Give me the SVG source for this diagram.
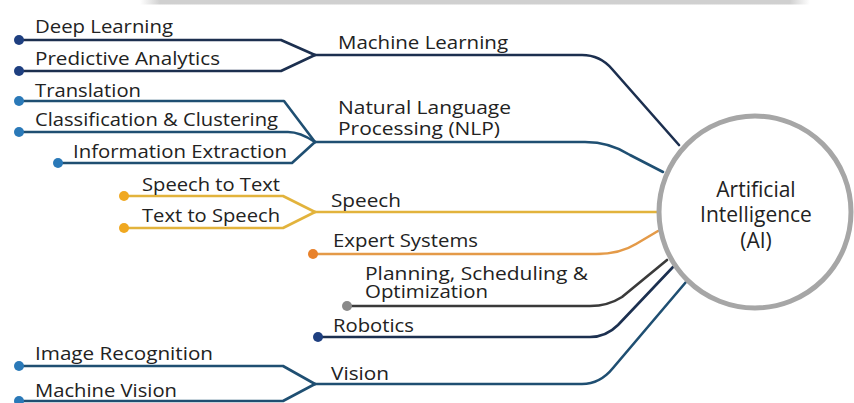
<svg xmlns="http://www.w3.org/2000/svg" width="854" height="403" viewBox="0 0 854 403">
<defs>
<linearGradient id="topbar" x1="0" y1="0" x2="1" y2="0">
<stop offset="0" stop-color="#d0d0d0" stop-opacity="0"/>
<stop offset="0.03" stop-color="#d0d0d0"/>
<stop offset="0.97" stop-color="#d0d0d0"/>
<stop offset="1" stop-color="#d0d0d0" stop-opacity="0"/>
</linearGradient>
<style>
text{font-family:"Open Sans","Noto Sans","Liberation Sans",sans-serif;font-size:18px;fill:#222;}
.c{font-size:21px;text-anchor:middle;}
.ln{fill:none;stroke-width:2.6;stroke-linejoin:round;stroke-linecap:round;}
.ml{stroke:#1c2f4f;}
.nlp{stroke:#1f4f72;}
.sp{stroke:#e2b33c;}
.ex{stroke:#e49a48;}
.pl{stroke:#3a3a3a;}
.rb{stroke:#1c3050;}
.vi{stroke:#1f4f72;}
.d-ml{fill:#1e3f80;}
.d-nlp{fill:#2a79b8;}
.d-sp{fill:#f0a820;}
.d-ex{fill:#e8812a;}
.d-pl{fill:#8a8a8a;}
</style>
</defs>
<rect x="0" y="0" width="854" height="403" fill="#ffffff"/>
<rect x="140" y="0" width="670" height="4.5" fill="url(#topbar)"/>

<g id="connectors">
<path class="ln ml" d="M19,40 H281 L315,55"/>
<path class="ln ml" d="M19,71 H281 L315,55"/>
<path class="ln ml" d="M315,55 H582 Q600,55 612,69 L679,145"/>

<path class="ln nlp" d="M19,101 H284 L315,142"/>
<path class="ln nlp" d="M19,132 H288 Q300,132 315,142"/>
<path class="ln nlp" d="M58,163 H292 L315,142"/>
<path class="ln nlp" d="M315,142 H585 Q610,142 630,155 L663,172"/>

<path class="ln sp" d="M124,196 H283 L315,212"/>
<path class="ln sp" d="M124,228 H283 L315,212"/>
<path class="ln sp" d="M315,212 H658"/>

<path class="ln ex" d="M313,254 H596 Q620,254 636,244 L658,231"/>
<path class="ln pl" d="M347,306 H590 Q608,306 622,297 L667,260"/>
<path class="ln rb" d="M318,337 H590 Q606,337 618,325 L673,267"/>

<path class="ln vi" d="M19,366 H283 L315,384"/>
<path class="ln vi" d="M19,401 H283 L315,384"/>
<path class="ln vi" d="M315,384 H582 Q600,384 613,368 L686,282"/>
</g>

<g id="ai">
<circle cx="755" cy="212" r="96" fill="#ffffff" stroke="#a6a6a6" stroke-width="5"/>
<text class="c" x="756" y="197">Artificial</text>
<text class="c" x="756" y="222">Intelligence</text>
<text class="c" x="756" y="248">(AI)</text>
</g>

<g id="machine-learning">
<text x="338" y="49" textLength="170" lengthAdjust="spacingAndGlyphs">Machine Learning</text>
</g>
<g id="deep-learning">
<circle class="d-ml" cx="19" cy="40" r="5"/>
<text x="35" y="33" textLength="138" lengthAdjust="spacingAndGlyphs">Deep Learning</text>
</g>
<g id="predictive-analytics">
<circle class="d-ml" cx="19" cy="71" r="5"/>
<text x="35" y="65" textLength="185" lengthAdjust="spacingAndGlyphs">Predictive Analytics</text>
</g>

<g id="nlp">
<text x="338" y="114" textLength="173" lengthAdjust="spacingAndGlyphs">Natural Language</text>
<text x="338" y="135" textLength="162" lengthAdjust="spacingAndGlyphs">Processing (NLP)</text>
</g>
<g id="translation">
<circle class="d-nlp" cx="19" cy="101" r="5"/>
<text x="35" y="97" textLength="106" lengthAdjust="spacingAndGlyphs">Translation</text>
</g>
<g id="classification">
<circle class="d-nlp" cx="19" cy="132" r="5"/>
<text x="35" y="126" textLength="243" lengthAdjust="spacingAndGlyphs">Classification &amp; Clustering</text>
</g>
<g id="information-extraction">
<circle class="d-nlp" cx="58" cy="163" r="5"/>
<text x="73" y="158" textLength="214" lengthAdjust="spacingAndGlyphs">Information Extraction</text>
</g>

<g id="speech">
<text x="331" y="207" textLength="70" lengthAdjust="spacingAndGlyphs">Speech</text>
</g>
<g id="speech-to-text">
<circle class="d-sp" cx="124" cy="196" r="5"/>
<text x="142" y="191" textLength="138" lengthAdjust="spacingAndGlyphs">Speech to Text</text>
</g>
<g id="text-to-speech">
<circle class="d-sp" cx="124" cy="228" r="5"/>
<text x="142" y="222" textLength="138" lengthAdjust="spacingAndGlyphs">Text to Speech</text>
</g>

<g id="expert-systems">
<circle class="d-ex" cx="313" cy="254" r="5"/>
<text x="333" y="247" textLength="145" lengthAdjust="spacingAndGlyphs">Expert Systems</text>
</g>

<g id="planning">
<circle class="d-pl" cx="347" cy="306" r="5"/>
<text x="365" y="280" textLength="223" lengthAdjust="spacingAndGlyphs">Planning, Scheduling &amp;</text>
<text x="365" y="298" textLength="123" lengthAdjust="spacingAndGlyphs">Optimization</text>
</g>

<g id="robotics">
<circle class="d-ml" cx="318" cy="337" r="5"/>
<text x="333" y="332" textLength="81" lengthAdjust="spacingAndGlyphs">Robotics</text>
</g>

<g id="vision">
<text x="331" y="380" textLength="58" lengthAdjust="spacingAndGlyphs">Vision</text>
</g>
<g id="image-recognition">
<circle class="d-nlp" cx="19" cy="366" r="5"/>
<text x="35" y="360" textLength="178" lengthAdjust="spacingAndGlyphs">Image Recognition</text>
</g>
<g id="machine-vision">
<circle class="d-nlp" cx="19" cy="401" r="5"/>
<text x="35" y="397" textLength="142" lengthAdjust="spacingAndGlyphs">Machine Vision</text>
</g>
</svg>
